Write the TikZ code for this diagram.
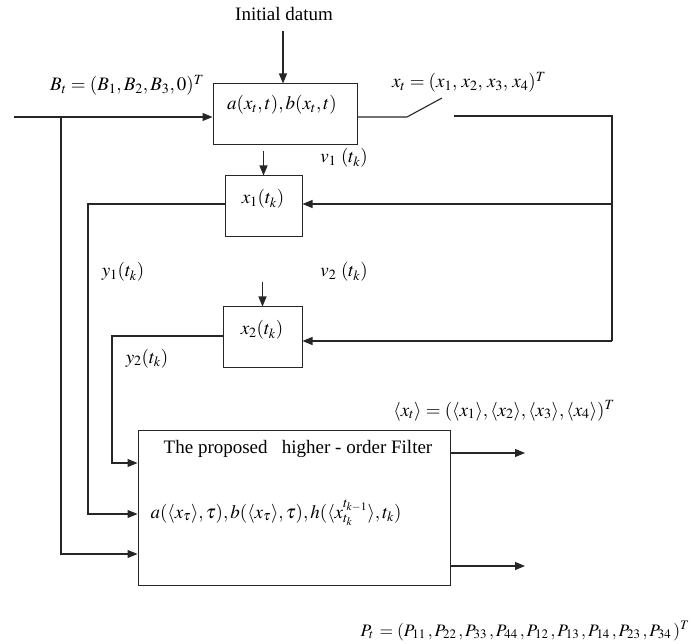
\documentclass[tikz,border=0pt]{standalone}
\usepackage{mathptmx}
\usepackage[no-math]{fontspec}
\setmainfont{Liberation Serif}
\usetikzlibrary{arrows.meta}
\begin{document}
\begin{tikzpicture}[x=1pt,y=-1pt,
  line width=1.1pt,
  every node/.style={font=\fontsize{19}{22}\selectfont},
  box/.style={draw=black!85, line width=1pt, inner sep=0pt},
  lbl/.style={inner sep=0pt, anchor=base},
  wire/.style={draw=black!85},
  arr/.style={draw=black!85, -{Triangle[length=10pt,width=8pt]}}]
\useasboundingbox (0,0) rectangle (691,644);

% boxes
\node[box, minimum width=144pt, minimum height=61pt] (b1) at (285,114.5) {};
\node[box, minimum width=77pt, minimum height=61pt] (b2) at (263.5,206.5) {};
\node[box, minimum width=79pt, minimum height=61pt] (b3) at (262.5,337.5) {};
\node[box, minimum width=312pt, minimum height=155pt] (big) at (294,507.5) {};

% labels
\node[lbl] (lInit) at (284,21) {Initial datum};
\node[lbl] (lB) at (127,91) {$B_t = (B_1, B_2, B_3, 0)^T$};
\node[lbl] (lx) at (469,88) {$x_t = (x_1, \,x_2, \,x_3, \,x_4)^T$};
\node[lbl] (lab) at (282,110) {$a(x_t,t), b(x_t,t)$};
\node[lbl] (lv1) at (344,163) {$v_1\ (t_k)$};
\node[lbl] (lx1) at (263,204) {$x_1(t_k)$};
\node[lbl] (ly1) at (123,277) {$y_1(t_k)$};
\node[lbl] (lv2) at (344,277) {$v_2\ (t_k)$};
\node[lbl] (lx2) at (262,335) {$x_2(t_k)$};
\node[lbl] (ly2) at (147,363) {$y_2(t_k)$};
\node[lbl] (lxm) at (504,416) {$\langle x_t\rangle = (\langle x_1\rangle, \langle x_2\rangle, \langle x_3\rangle, \langle x_4\rangle)^T$};
\node[lbl] (lf1) at (298,453) {The proposed~~ higher - order Filter};
\node[lbl] (lf2) at (276,518) {$a(\langle x_\tau\rangle,\tau), b(\langle x_\tau\rangle,\tau), h(\langle x_{t_k}^{t_{k-1}}\rangle, t_k)$};
\node[lbl, font=\fontsize{17.5}{20}\selectfont] (lP) at (525,636) {$P_t\, = (P_{11}\,, P_{22}\,, P_{33}\,, P_{44}\,, P_{12}\,, P_{13}\,, P_{14}\,, P_{23}\,, P_{34}\,)^T$};

% coordinates
\coordinate (i0) at (283,31);
\coordinate (in0) at (14,117);
\coordinate (br) at (61,117);
\coordinate (sw1) at (407,117);
\coordinate (sw2) at (442,98);
\coordinate (sw3) at (454,116);
\coordinate (rt) at (612,116);
\coordinate (rb) at (612,341);
\coordinate (o1) at (525,453);
\coordinate (o2) at (525,566);

% connectors
\draw[arr] (i0) -- (i0 |- b1.north);
\draw[arr] (in0) -- (b1.west |- in0);
\draw[arr] (br) |- (big.west |- 0,554);
\draw[wire] (b1.east |- sw1) -- (sw1) -- (sw2);
\draw[wire] (sw3) -- (rt) -- (rb);
\draw[arr] (rt |- 0,204) -- (b2.east |- 0,204);
\draw[arr] (rb) -- (b3.east |- rb);
\draw[arr] ([yshift=24pt]b2.north) -- (b2.north);
\draw[arr] ([yshift=24pt]b3.north) -- (b3.north);
\draw[arr] (b2.west |- 0,204) -| (88,514) -- (big.west |- 0,514);
\draw[arr] (b3.west |- 0,336) -| (112,463) -- (big.west |- 0,463);
\draw[arr] (big.east |- o1) -- (o1);
\draw[arr] (big.east |- o2) -- (o2);
\end{tikzpicture}
\end{document}
